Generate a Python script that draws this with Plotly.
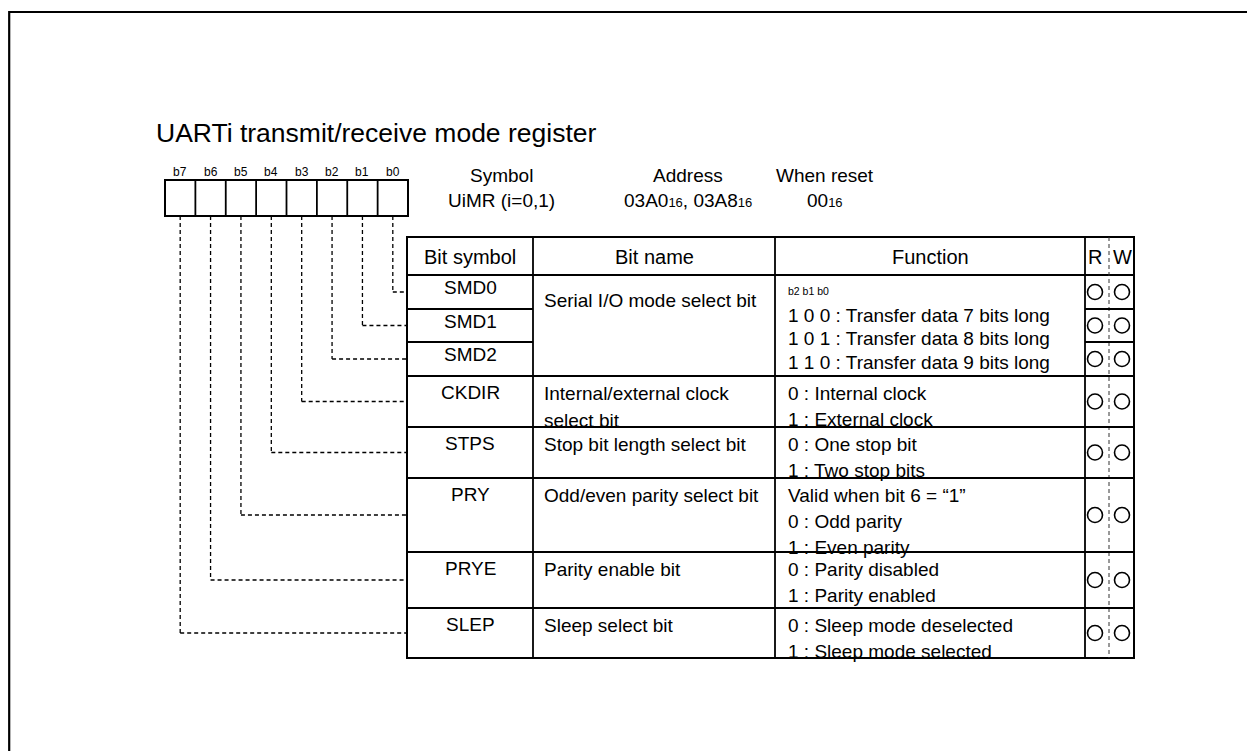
import plotly.graph_objects as go

# ---------------- data ----------------
title_text = "UARTi transmit/receive mode register"
bit_labels = ["b7", "b6", "b5", "b4", "b3", "b2", "b1", "b0"]
info_headers = ["Symbol", "Address", "When reset"]
info_values = ["UiMR (i=0,1)", "03A0_16, 03A8_16", "00_16"]
table_headers = ["Bit symbol", "Bit name", "Function"]
rw_headers = ["R", "W"]
bit_symbols = ["SMD0", "SMD1", "SMD2", "CKDIR", "STPS", "PRY", "PRYE", "SLEP"]
register_bits = [0, 1, 2, 3, 4, 5, 6, 7]      # register bit wired to each row
group_sizes = [3, 1, 1, 1, 1, 1]              # rows shared by each bit name
bit_names = [
    ["Serial I/O mode select bit"],
    ["Internal/external clock", "select bit"],
    ["Stop bit length select bit"],
    ["Odd/even parity select bit"],
    ["Parity enable bit"],
    ["Sleep select bit"],
]
function_notes = ["b2 b1 b0", "", "", "", "", ""]
functions = [
    ["1 0 0 : Transfer data 7 bits long",
     "1 0 1 : Transfer data 8 bits long",
     "1 1 0 : Transfer data 9 bits long"],
    ["0 : Internal clock", "1 : External clock"],
    ["0 : One stop bit", "1 : Two stop bits"],
    ["Valid when bit 6 = \u201c1\u201d", "0 : Odd parity", "1 : Even parity"],
    ["0 : Parity disabled", "1 : Parity enabled"],
    ["0 : Sleep mode deselected", "1 : Sleep mode selected"],
]
read_access = [1, 1, 1, 1, 1, 1, 1, 1]
write_access = [1, 1, 1, 1, 1, 1, 1, 1]

# ---------------- geometry / style ----------------
W, H = 1255, 751
PAGE_OFFSET = 8  # browser body margin
FONT = "Liberation Sans, Arial, sans-serif"
BODY = 19
header_top = 237
row_edges = [275, 309, 342, 376, 427, 478, 552, 608, 658]
col_edges = [407, 533, 775, 1085, 1134]
rw_split = 1109
rw_x = [1095, 1122]
reg_left, reg_right, reg_top, reg_bottom = 165, 408, 180, 216
info_x = [501, 688, 825]
cell_w = (reg_right - reg_left) / 8
cell_centers = [reg_left + cell_w * (i + 0.5) for i in range(8)]

shapes = []
annotations = []


def line(x0, y0, x1, y1, width=1.6, dash=None, color="black"):
    d = dict(type="line", xref="x", yref="y", x0=x0, y0=y0, x1=x1, y1=y1,
             line=dict(color=color, width=width))
    if dash:
        d["line"]["dash"] = dash
    shapes.append(d)


def text(x, y, s, size=BODY, anchor="center"):
    annotations.append(dict(x=x, y=y, xref="x", yref="y", text=s, showarrow=False,
                            xanchor=anchor, yanchor="middle", borderpad=0,
                            font=dict(family=FONT, size=size, color="black")))


def sub16(s):
    return s.replace("_16", "<span style='font-size:13px'>16</span>")


# outer frame
shapes.append(dict(type="rect", xref="x", yref="y", x0=9.2, y0=12, x1=W + 30, y1=H + 30,
                   line=dict(color="black", width=2.2)))

# title
text(155, 133, title_text, size=26.5, anchor="left")

# register box
shapes.append(dict(type="rect", xref="x", yref="y", x0=reg_left, y0=reg_top,
                   x1=reg_right, y1=reg_bottom, line=dict(color="black", width=2)))
for i in range(1, 8):
    xv = reg_left + cell_w * i
    line(xv, reg_top, xv, reg_bottom, width=1.8)
for i, lab in enumerate(bit_labels):
    text(cell_centers[i], 172, lab, size=12)

# symbol / address / reset
for i in range(3):
    text(info_x[i], 175, info_headers[i])
    text(info_x[i], 200, sub16(info_values[i]))

# table frame
shapes.append(dict(type="rect", xref="x", yref="y", x0=col_edges[0], y0=header_top,
                   x1=col_edges[-1], y1=row_edges[-1], line=dict(color="black", width=2)))
for xv in col_edges[1:-1]:
    line(xv, header_top, xv, row_edges[-1], width=1.8)
line(col_edges[0], row_edges[0], col_edges[-1], row_edges[0], width=1.8)
line(rw_split, header_top, rw_split, row_edges[-1], width=1, dash="4px,3px", color="#333")

# headers
for i, h in enumerate(table_headers):
    text((col_edges[i] + col_edges[i + 1]) / 2, 257, h, size=20)
for i, h in enumerate(rw_headers):
    text(rw_x[i], 257, h, size=20)

# groups and rows
r = 0
for g, n in enumerate(group_sizes):
    top = row_edges[r]
    if g > 0:
        line(col_edges[0], top, col_edges[-1], top, width=1.8)
    for k in range(1, n):
        yk = row_edges[r + k]
        line(col_edges[0], yk, col_edges[1], yk, width=1.8)
        line(col_edges[3], yk, col_edges[4], yk, width=1.8)
    for k in range(n):
        rt = row_edges[r + k]
        text((col_edges[0] + col_edges[1]) / 2, rt + (12 if n > 1 else 16), bit_symbols[r + k])
    ny = top + (25 if n > 1 else 17)
    for j, s in enumerate(bit_names[g]):
        text(col_edges[1] + 10, ny + 27 * j, s, anchor="left")
    if function_notes[g]:
        text(col_edges[2] + 12, top + 16, function_notes[g], size=10.5, anchor="left")
        for j, s in enumerate(functions[g]):
            text(col_edges[2] + 12, top + 40 + 23.5 * j, s, anchor="left")
    else:
        for j, s in enumerate(functions[g]):
            text(col_edges[2] + 12, top + 17 + 26 * j, s, anchor="left")
    r += n

# connectors (dashed) from register bits to rows
for i, b in enumerate(register_bits):
    xc = cell_centers[7 - b]
    yc = (row_edges[i] + row_edges[i + 1]) / 2
    line(xc, reg_bottom, xc, yc, width=1.3, dash="4px,3px")
    line(xc, yc, col_edges[0], yc, width=1.3, dash="4px,3px")

# R/W circles
row_centers = [(row_edges[i] + row_edges[i + 1]) / 2 for i in range(8)]
fig = go.Figure()
fig.add_trace(go.Scatter(
    x=[rw_x[0]] * sum(read_access) + [rw_x[1]] * sum(write_access),
    y=[row_centers[i] for i in range(8) if read_access[i]] +
      [row_centers[i] for i in range(8) if write_access[i]],
    mode="markers", hoverinfo="skip",
    marker=dict(symbol="circle-open", size=15, color="black", line=dict(width=1.6)),
))

fig.update_layout(
    width=W, height=H, margin=dict(l=0, r=0, t=0, b=0),
    paper_bgcolor="white", plot_bgcolor="white", showlegend=False,
    xaxis=dict(range=[PAGE_OFFSET, W + PAGE_OFFSET], visible=False, fixedrange=True),
    yaxis=dict(range=[H + PAGE_OFFSET, PAGE_OFFSET], visible=False, fixedrange=True),
    shapes=shapes, annotations=annotations,
)
fig.write_html("out.html")
